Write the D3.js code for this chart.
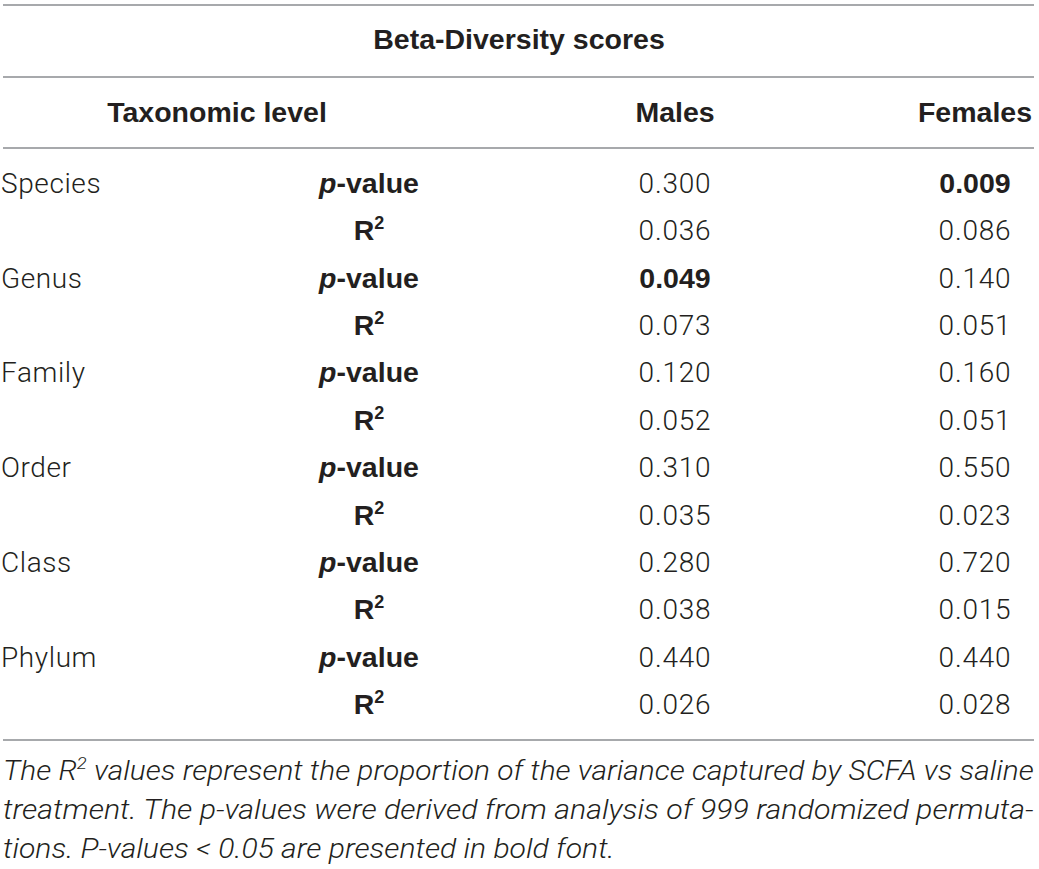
<!DOCTYPE html>
<html>

<head>
    <script src="https://d3js.org/d3.v7.min.js"></script>
    <style>
        body { margin: 0; background: #fff; }
    </style>
    <script>
        const w = 1039
        const h = 869
        const title = "Beta-Diversity scores"
        const levelHeader = "Taxonomic level"
        const groups = ["Males", "Females"]
        const levels = ["Species", "Genus", "Family", "Order", "Class", "Phylum"]
        const malesP = [0.300, 0.049, 0.120, 0.310, 0.280, 0.440]
        const malesR2 = [0.036, 0.073, 0.052, 0.035, 0.038, 0.026]
        const femalesP = [0.009, 0.140, 0.160, 0.550, 0.720, 0.440]
        const femalesR2 = [0.086, 0.051, 0.051, 0.023, 0.015, 0.028]
        const footnote = [
            [["The R", ""], ["2", "sup"], [" values represent the proportion of the variance captured by SCFA vs saline", ""]],
            [["treatment. The p-values were derived from analysis of 999 randomized permuta-", ""]],
            [["tions. P-values < 0.05 are presented in bold font.", ""]]
        ]

        const ink = "#231f20"
        const rule = "#a7a9ac"
        const bodyFont = "Roboto, 'Liberation Sans', sans-serif"
        const headFont = "'Liberation Sans', Arial, sans-serif"
        const headSize = 28.5
        const bodySize = 28
        const fmt = d3.format(".3f")

        function doSVG() {
            const svg = d3.select("body").append("svg")
                .attr("width", w)
                .attr("height", h)

            // one row per (level, statistic)
            const rows = []
            levels.forEach((lv, i) => {
                rows.push({ id: lv + "-p", level: lv, stat: "p", vals: [malesP[i], femalesP[i]] })
                rows.push({ id: lv + "-r", level: "", stat: "r", vals: [malesR2[i], femalesR2[i]] })
            })

            const y = d3.scalePoint().domain(rows.map(d => d.id)).range([193, 714])
            const x = d3.scaleOrdinal().domain(["stat", ...groups]).range([369, 675, 975])

            // horizontal rules
            svg.selectAll(".rule")
                .data([5, 77, 148, 740])
                .enter()
                .append("line")
                .attr("x1", 3).attr("x2", 1034)
                .attr("y1", d => d).attr("y2", d => d)
                .attr("stroke", rule)
                .attr("stroke-width", 1.8)

            // header
            const head = (sel) => sel
                .attr("text-anchor", "middle")
                .attr("font-family", headFont).attr("font-weight", "bold")
                .attr("font-size", headSize).attr("fill", ink)

            svg.append("text").text(title)
                .attr("x", 519).attr("y", 49)
                .call(head)
            svg.append("text").text(levelHeader)
                .attr("x", 217).attr("y", 122)
                .call(head)
            svg.selectAll(".grp")
                .data(groups)
                .enter()
                .append("text")
                .text(d => d)
                .attr("x", d => x(d)).attr("y", 122)
                .call(head)

            const rowG = svg.selectAll(".row")
                .data(rows)
                .enter()
                .append("g")
                .attr("transform", d => `translate(0, ${y(d.id)})`)

            rowG.append("text")
                .text(d => d.level)
                .attr("x", 1)
                .attr("font-family", bodyFont).attr("font-weight", 300)
                .attr("letter-spacing", 0.6)
                .attr("font-size", bodySize).attr("fill", ink)

            rowG.each(function (d) {
                const g = d3.select(this)
                const t = g.append("text")
                    .attr("x", x("stat"))
                    .call(head)
                if (d.stat === "p") {
                    t.append("tspan").text("p").attr("font-style", "italic")
                    t.append("tspan").text("-value")
                } else {
                    t.append("tspan").text("R")
                    t.append("tspan").text("2").attr("font-size", 18).attr("dy", -11)
                }
                d.vals.forEach((v, j) => {
                    const bold = d.stat === "p" && v < 0.05
                    g.append("text")
                        .text(fmt(v))
                        .attr("x", x(groups[j]))
                        .attr("text-anchor", "middle")
                        .attr("font-family", bold ? headFont : bodyFont)
                        .attr("font-weight", bold ? "bold" : 300)
                        .attr("letter-spacing", bold ? 0 : 0.8)
                        .attr("font-size", bold ? headSize : bodySize).attr("fill", ink)
                })
            })

            // footnote, condensed italic
            const fy = [780, 819, 858]
            const lines = footnote.map((parts, i) => {
                const t = svg.append("text")
                    .attr("font-family", bodyFont).attr("font-weight", 300)
                    .attr("font-style", "italic")
                    .attr("font-size", 27.5).attr("fill", ink)
                parts.forEach(p => {
                    const s = t.append("tspan").text(p[0])
                    if (p[1] === "sup") s.attr("font-size", 17).attr("dy", -11)
                    else if (i === 0 && p[0].startsWith(" ")) s.attr("dy", 11)
                })
                return t
            })
            const full = 1031
            const ratios = lines.map(t => full / t.node().getComputedTextLength())
            const sx = (ratios[0] + ratios[1]) / 2
            lines.forEach((t, i) => {
                const k = i < 2 ? ratios[i] : sx
                t.attr("transform", `translate(3, ${fy[i]}) scale(${k}, 1)`)
            })
        }
    </script>
</head>

<body onload="doSVG()">
</body>

</html>
